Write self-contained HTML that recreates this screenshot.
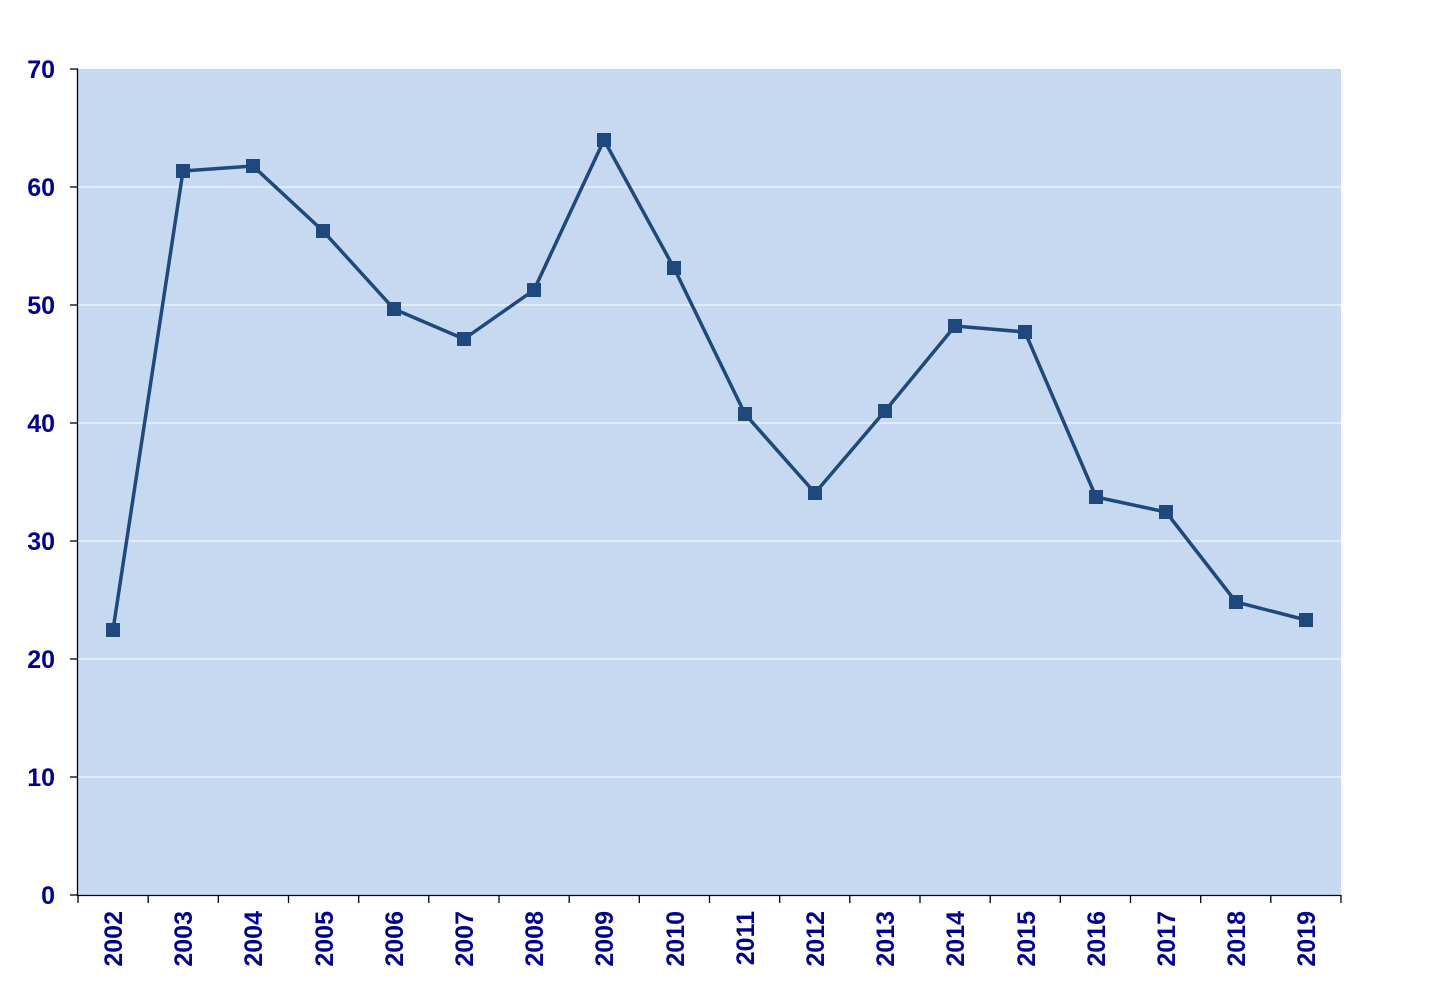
<!DOCTYPE html>
<html><head><meta charset="utf-8"><style>html,body{margin:0;padding:0;background:#fff}</style></head>
<body>
<svg width="1438" height="1002" xmlns="http://www.w3.org/2000/svg" font-family="Liberation Sans, Arial, sans-serif" font-weight="bold" font-size="25" fill="#000090">
<rect x="78" y="69" width="1263" height="826" fill="#C6D9F0"/>
<g stroke="#fff" stroke-width="1">
<line x1="78" y1="187" x2="1341" y2="187"/><line x1="78" y1="305" x2="1341" y2="305"/><line x1="78" y1="423" x2="1341" y2="423"/><line x1="78" y1="541" x2="1341" y2="541"/><line x1="78" y1="659" x2="1341" y2="659"/><line x1="78" y1="777" x2="1341" y2="777"/>
</g>
<g stroke="#000" stroke-width="1.3">
<line x1="77.5" y1="69" x2="77.5" y2="896"/>
<line x1="77" y1="895.5" x2="1341" y2="895.5"/>
<line x1="70" y1="69" x2="78" y2="69"/><line x1="70" y1="187" x2="78" y2="187"/><line x1="70" y1="305" x2="78" y2="305"/><line x1="70" y1="423" x2="78" y2="423"/><line x1="70" y1="541" x2="78" y2="541"/><line x1="70" y1="659" x2="78" y2="659"/><line x1="70" y1="777" x2="78" y2="777"/><line x1="70" y1="895" x2="78" y2="895"/>
<path d="M78 895v8M148.2 895v8M218.3 895v8M288.5 895v8M358.7 895v8M428.8 895v8M499 895v8M569.2 895v8M639.3 895v8M709.5 895v8M779.7 895v8M849.8 895v8M920 895v8M990.2 895v8M1060.3 895v8M1130.5 895v8M1200.7 895v8M1270.8 895v8M1341 895v8"/>
</g>
<g text-anchor="end">
<text x="55" y="78">70</text><text x="55" y="196">60</text><text x="55" y="314">50</text><text x="55" y="432">40</text><text x="55" y="550">30</text><text x="55" y="668">20</text><text x="55" y="786">10</text><text x="55" y="904">0</text>
</g>
<g text-anchor="end">
<text transform="translate(122,911) rotate(-90)">2002</text>
<text transform="translate(192,911) rotate(-90)">2003</text>
<text transform="translate(262,911) rotate(-90)">2004</text>
<text transform="translate(333,911) rotate(-90)">2005</text>
<text transform="translate(403,911) rotate(-90)">2006</text>
<text transform="translate(473,911) rotate(-90)">2007</text>
<text transform="translate(543,911) rotate(-90)">2008</text>
<text transform="translate(613,911) rotate(-90)">2009</text>
<text transform="translate(684,911) rotate(-90)">2010</text>
<text transform="translate(754,911) rotate(-90)">2011</text>
<text transform="translate(824,911) rotate(-90)">2012</text>
<text transform="translate(894,911) rotate(-90)">2013</text>
<text transform="translate(964,911) rotate(-90)">2014</text>
<text transform="translate(1035,911) rotate(-90)">2015</text>
<text transform="translate(1105,911) rotate(-90)">2016</text>
<text transform="translate(1175,911) rotate(-90)">2017</text>
<text transform="translate(1245,911) rotate(-90)">2018</text>
<text transform="translate(1315,911) rotate(-90)">2019</text>
</g>
<polyline fill="none" stroke="#1F497D" stroke-width="3.5" stroke-linejoin="round" points="113,630 183,171 253,166 323,231 394,309 464,339 534,290 604,140 674,268 745,414 815,493 885,411 955,326 1025,332 1096,497 1166,512 1236,602 1306,620"/>
<g fill="#1F497D">
<rect x="106" y="623" width="14" height="14"/><rect x="176" y="164" width="14" height="14"/><rect x="246" y="159" width="14" height="14"/><rect x="316" y="224" width="14" height="14"/><rect x="387" y="302" width="14" height="14"/><rect x="457" y="332" width="14" height="14"/><rect x="527" y="283" width="14" height="14"/><rect x="597" y="133" width="14" height="14"/><rect x="667" y="261" width="14" height="14"/><rect x="738" y="407" width="14" height="14"/><rect x="808" y="486" width="14" height="14"/><rect x="878" y="404" width="14" height="14"/><rect x="948" y="319" width="14" height="14"/><rect x="1018" y="325" width="14" height="14"/><rect x="1089" y="490" width="14" height="14"/><rect x="1159" y="505" width="14" height="14"/><rect x="1229" y="595" width="14" height="14"/><rect x="1299" y="613" width="14" height="14"/>
</g>
</svg>
</body></html>
